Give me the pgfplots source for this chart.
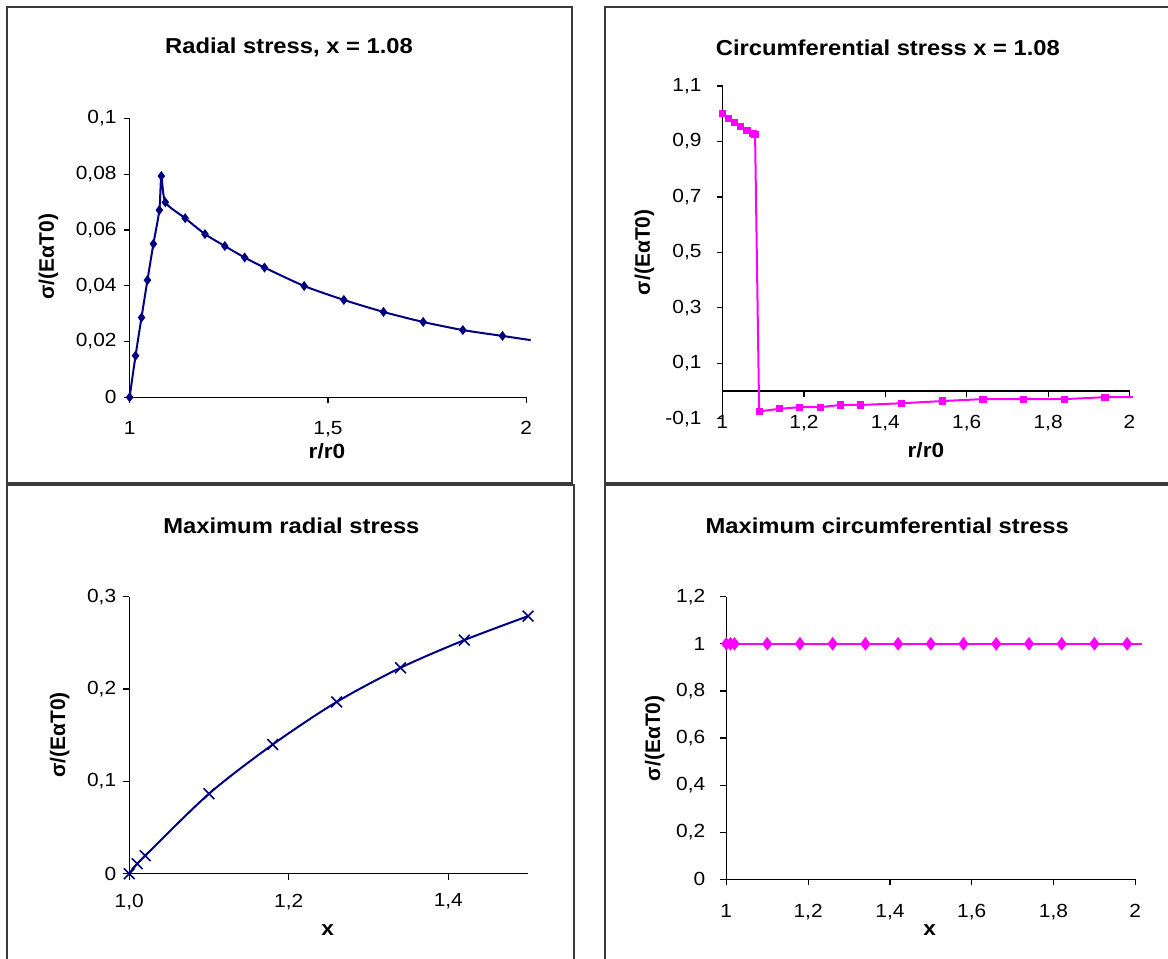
\documentclass[border=0pt]{standalone}
\usepackage{fontspec}
\setmainfont{Liberation Sans}[FakeStretch=1.1]
\newfontfamily\plainfont{Liberation Sans}
\usepackage{pgfplots}
\pgfplotsset{compat=1.18}
\definecolor{navyx}{HTML}{000080}
\definecolor{magx}{HTML}{FF00FF}
\definecolor{framec}{HTML}{3A3A3A}

\pgfplotsset{
  excel/.style={
    scale only axis,
    anchor=south west,
    axis x line*=bottom,
    axis y line*=left,
    axis line style={black, line width=0.6pt},
    tick align=outside,
    major tick length=3pt,
    every tick/.style={black, line width=0.6pt},
    /pgf/number format/assume math mode=true,
    /pgf/number format/use comma,
    /pgf/number format/fixed,
    tick label style={font=\fontsize{9.5}{11}\selectfont},
    xlabel style={font=\fontsize{10.3}{12}\selectfont\bfseries},
    ylabel style={font=\plainfont\fontsize{10.5}{12}\selectfont\bfseries},
    title style={font=\fontsize{10.8}{13}\selectfont\bfseries, anchor=center, yshift=-6.3pt},
    clip=false,
  }
}

\begin{document}
\begin{tikzpicture}
\path[use as bounding box] (0pt,0pt) rectangle (584pt,-479.5pt);

\draw[framec, line width=1pt] (3.65pt,-3.35pt) rectangle (286pt,-241.5pt);
\draw[framec, line width=1pt] (3.65pt,-242.3pt) rectangle (287pt,-490pt);
\draw[framec, line width=1pt] (302.5pt,-3.35pt) rectangle (600pt,-241.5pt);
\draw[framec, line width=1pt] (302.5pt,-242.3pt) rectangle (600pt,-490pt);

% Panel 1
\begin{axis}[excel, at={(64.8pt,-198.65pt)}, width=198.35pt, height=139.5pt,
  xmin=1, xmax=2, ymin=0, ymax=0.1,
  xtick={1,1.5,2}, ytick={0,0.02,0.04,0.06,0.08,0.1},
  xticklabel style={yshift=-5.5pt},
  title={Radial stress, x = 1.08},
  title style={at={(axis description cs:0.402,1.2556)}},
  xlabel={r/r0}, xlabel style={at={(axis description cs:0.4976,-0.195)}, anchor=center},
  ylabel={σ/(EαT0)}, ylabel style={at={(axis description cs:-0.2047,0.504)}, anchor=center}]
\addplot[navyx, line width=1pt, smooth, tension=0.4, mark=diamond*, mark size=1.7pt,
  mark options={solid, fill=navyx}, mark indices={1,...,19}] coordinates {
(1.000,0) (1.015,0.0149) (1.030,0.0286) (1.045,0.0420) (1.060,0.0550)
(1.075,0.0671) (1.080,0.0793) (1.090,0.0699) (1.140,0.0642) (1.190,0.0585)
(1.240,0.0542) (1.290,0.0501) (1.340,0.0465) (1.440,0.0399) (1.540,0.0349)
(1.640,0.0306) (1.740,0.0270) (1.840,0.0241) (1.940,0.0220) (2.011,0.0205)
};
\end{axis}

% Panel 2
\begin{axis}[excel, at={(361.25pt,-209.4pt)}, width=203.5pt, height=166.4pt,
  axis x line*=middle, hide obscured x ticks=false,
  xmin=1, xmax=2, ymin=-0.1, ymax=1.1,
  xtick={1,1.2,1.4,1.6,1.8,2}, ytick={-0.1,0.1,0.3,0.5,0.7,0.9,1.1},
  xticklabel style={yshift=-5.5pt},
  yticklabel style={xshift=-4pt},
  title={Circumferential stress x = 1.08},
  title style={at={(axis description cs:0.4064,1.1172)}},
  xlabel={r/r0}, xlabel style={at={(axis description cs:0.4998,-0.0959)}, anchor=center},
  ylabel={σ/(EαT0)}, ylabel style={at={(axis description cs:-0.1921,0.5003)}, anchor=center}]
\addplot[magx, line width=1pt, mark=square*, mark size=1.3pt,
  mark options={solid, fill=magx}, mark indices={1,...,19}] coordinates {
(1.000,1.000) (1.015,0.982) (1.030,0.968) (1.045,0.953) (1.060,0.939)
(1.075,0.930) (1.080,0.925) (1.090,-0.073) (1.140,-0.064) (1.190,-0.058)
(1.240,-0.058) (1.290,-0.050) (1.340,-0.050) (1.440,-0.044) (1.540,-0.036)
(1.640,-0.029) (1.740,-0.029) (1.840,-0.029) (1.940,-0.022) (2.009,-0.022)
};
\end{axis}

% Panel 3
\begin{axis}[excel, at={(64.6pt,-436.85pt)}, width=199.45pt, height=138.5pt,
  xmin=1, xmax=1.5, ymin=0, ymax=0.3,
  xtick={1,1.2,1.4}, ytick={0,0.1,0.2,0.3},
  xticklabel style={yshift=-3.5pt, /pgf/number format/fixed zerofill, /pgf/number format/precision=1},
  title={Maximum radial stress},
  title style={at={(axis description cs:0.4066,1.2588)}},
  xlabel={x}, xlabel style={at={(axis description cs:0.4976,-0.2032)}, anchor=center},
  ylabel={σ/(EαT0)}, ylabel style={at={(axis description cs:-0.1745,0.5007)}, anchor=center}]
\addplot[navyx, line width=1pt, smooth, tension=0.5, mark=x, mark size=3.8pt,
  mark options={solid, line width=0.8pt}] coordinates {
(1.00,0) (1.01,0.0108) (1.02,0.0195) (1.10,0.0866) (1.18,0.140)
(1.26,0.186) (1.34,0.223) (1.42,0.253) (1.50,0.279)
};
\end{axis}

% Panel 4
\begin{axis}[excel, at={(363.15pt,-439.65pt)}, width=204.5pt, height=141.3pt,
  xmin=1, xmax=2, ymin=0, ymax=1.2,
  xtick={1,1.2,1.4,1.6,1.8,2}, ytick={0,0.2,0.4,0.6,0.8,1,1.2},
  xticklabel style={yshift=-6pt},
  yticklabel style={xshift=-4pt},
  title={Maximum circumferential stress},
  title style={at={(axis description cs:0.3934,1.2537)}},
  xlabel={x}, xlabel style={at={(axis description cs:0.497,-0.1794)}, anchor=center},
  ylabel={σ/(EαT0)}, ylabel style={at={(axis description cs:-0.1748,0.499)}, anchor=center}]
\addplot[magx, line width=1pt, mark=diamond*, mark size=2.6pt,
  mark options={solid, fill=magx}, mark indices={1,...,15}] coordinates {
(1.00,1) (1.01,1) (1.02,1) (1.10,1) (1.18,1) (1.26,1) (1.34,1) (1.42,1)
(1.50,1) (1.58,1) (1.66,1) (1.74,1) (1.82,1) (1.90,1) (1.98,1) (2.016,1)
};
\end{axis}
\end{tikzpicture}
\end{document}
